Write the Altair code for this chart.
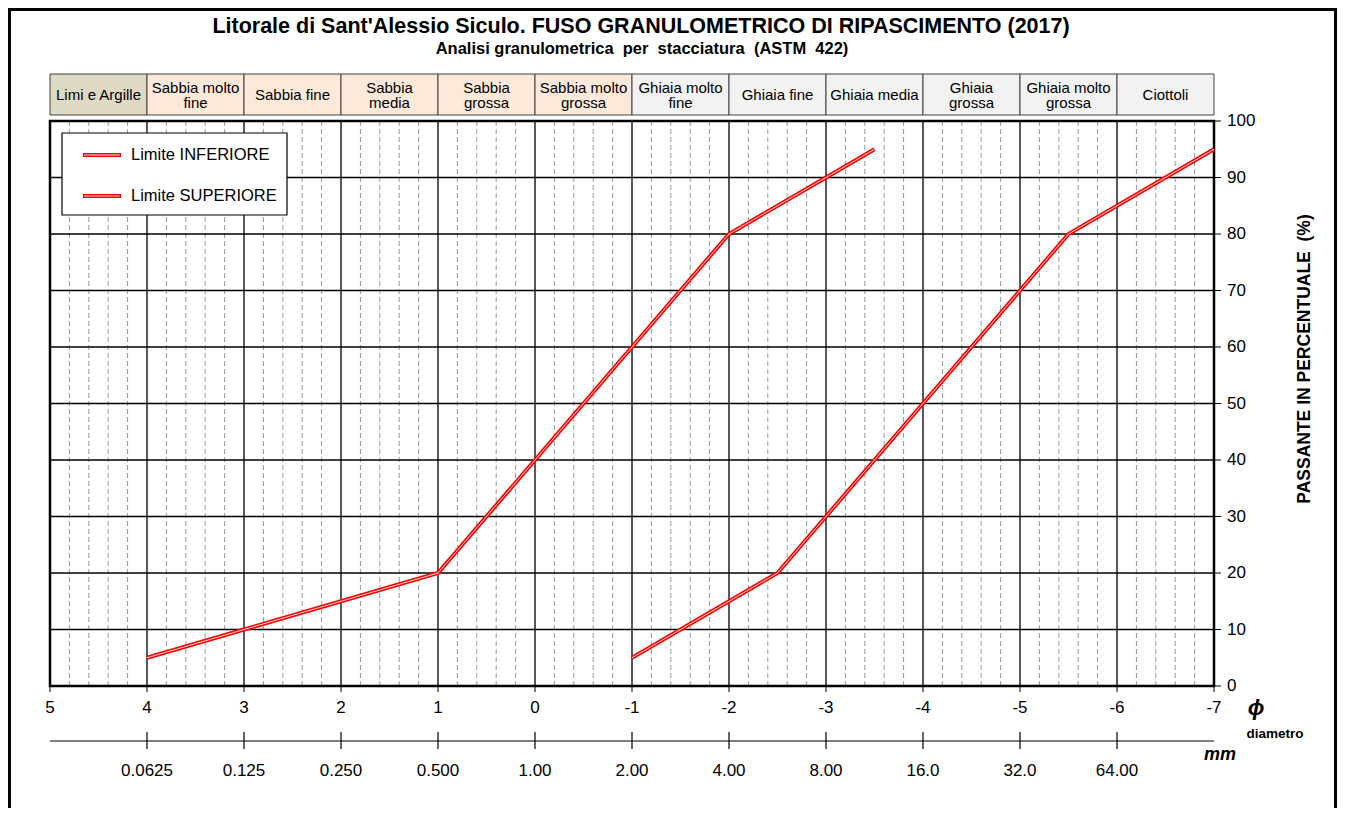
import altair as alt
import pandas as pd
import numpy as np

FONT = "Liberation Sans"
NB = "\u00a0"

# ---- data ----
phi_inf = [4, 3, 2, 1, 0, -1, -2, -3, -3.5]
pct_inf = [5, 10, 15, 20, 40, 60, 80, 90, 95]
phi_sup = [-1, -2, -2.5, -3, -4, -5, -5.5, -6, -7]
pct_sup = [5, 15, 20, 30, 50, 70, 80, 85, 95]

class_names = ["Limi e Argille", "Sabbia molto\nfine", "Sabbia fine", "Sabbia\nmedia", "Sabbia\ngrossa",
               "Sabbia molto\ngrossa", "Ghiaia molto\nfine", "Ghiaia fine", "Ghiaia media", "Ghiaia\ngrossa",
               "Ghiaia molto\ngrossa", "Ciottoli"]
class_from = [5, 4, 3, 2, 1, 0, -1, -2, -3, -4, -5, -6]
class_to = [4, 3, 2, 1, 0, -1, -2, -3, -4, -5, -6, -7]
class_colors = ["#ddd9c3"] + ["#fde9d9"] * 5 + ["#f2f2f2"] * 6

phi_ticks = [5, 4, 3, 2, 1, 0, -1, -2, -3, -4, -5, -6, -7]
mm_phi = [4, 3, 2, 1, 0, -1, -2, -3, -4, -5, -6]
mm_labels = ["0.0625", "0.125", "0.250", "0.500", "1.00", "2.00", "4.00", "8.00", "16.0", "32.0", "64.00"]
pct_ticks = [0, 10, 20, 30, 40, 50, 60, 70, 80, 90, 100]

W, H = 1164, 565

xs = alt.Scale(domain=[-7, 5], reverse=True, nice=False, zero=False)
ys = alt.Scale(domain=[0, 100], nice=False, zero=False)

minor = [round(v, 1) for v in np.arange(-7, 5.01, 0.2) if abs(v - round(v)) > 1e-6]
df_minor = pd.DataFrame({"phi": minor})
df_major = pd.DataFrame({"phi": phi_ticks[1:-1]})
df_hgrid = pd.DataFrame({"pct": pct_ticks[1:-1]})

df_lines = pd.concat([
    pd.DataFrame({"phi": phi_inf, "pct": pct_inf, "serie": "Limite INFERIORE"}),
    pd.DataFrame({"phi": phi_sup, "pct": pct_sup, "serie": "Limite SUPERIORE"}),
])

line_red = alt.Chart(df_lines).mark_line(color="#ff0000", strokeWidth=4, strokeJoin="miter").encode(
    x=alt.X("phi:Q", scale=xs, axis=None),
    y=alt.Y("pct:Q", scale=ys, axis=None),
    detail="serie:N")
line_white = alt.Chart(df_lines).mark_line(color="#ffffff", strokeWidth=1, opacity=0.85).encode(
    x=alt.X("phi:Q", scale=xs, axis=None), y=alt.Y("pct:Q", scale=ys, axis=None), detail="serie:N")

minor_rules = alt.Chart(df_minor).mark_rule(color="#9a9a9a", strokeDash=[5, 3], strokeWidth=1).encode(
    x=alt.X("phi:Q", scale=xs, axis=None), y=alt.value(0), y2=alt.value(H))
major_rules = alt.Chart(df_major).mark_rule(color="#000000", strokeWidth=1.3).encode(
    x=alt.X("phi:Q", scale=xs, axis=None), y=alt.value(0), y2=alt.value(H))
h_rules = alt.Chart(df_hgrid).mark_rule(color="#000000", strokeWidth=1.3).encode(
    y=alt.Y("pct:Q", scale=ys, axis=None), x=alt.value(0), x2=alt.value(W))

# ---- phi axis (bottom) ----
df_phi = pd.DataFrame({"phi": phi_ticks, "lab": [str(v) for v in phi_ticks]})
phi_tk = alt.Chart(df_phi).mark_rule(color="#000", strokeWidth=1).encode(
    x=alt.X("phi:Q", scale=xs, axis=None), y=alt.value(H), y2=alt.value(H + 6))
phi_lab = alt.Chart(df_phi).mark_text(font=FONT, fontSize=17, color="#000", baseline="middle").encode(
    x=alt.X("phi:Q", scale=xs, axis=None), y=alt.value(H + 22), text="lab:N")

# ---- percent axis (right) ----
df_pct = pd.DataFrame({"pct": pct_ticks, "lab": [str(v) for v in pct_ticks]})
pct_tk = alt.Chart(df_pct).mark_rule(color="#000", strokeWidth=1).encode(
    y=alt.Y("pct:Q", scale=ys, axis=None), x=alt.value(W), x2=alt.value(W + 7))
pct_lab = alt.Chart(df_pct).mark_text(font=FONT, fontSize=17, color="#000", baseline="middle", align="left").encode(
    y=alt.Y("pct:Q", scale=ys, axis=None), x=alt.value(W + 13), text="lab:N")

# ---- header class band ----
df_cls = pd.DataFrame({"name": class_names, "a": class_from, "b": class_to, "col": class_colors,
                       "mid": [(a + b) / 2 for a, b in zip(class_from, class_to)]})
df_cls["two"] = df_cls["name"].str.contains("\n")
cls_rect = alt.Chart(df_cls).mark_rect(stroke="#404040", strokeWidth=1).encode(
    x=alt.X("a:Q", scale=xs, axis=None), x2="b:Q", y=alt.value(-47), y2=alt.value(-6),
    fill=alt.Fill("col:N", scale=None))
cls_text1 = alt.Chart(df_cls[~df_cls["two"]]).mark_text(
    font=FONT, fontSize=15, color="#000", baseline="middle", align="center").encode(
    x=alt.X("mid:Q", scale=xs, axis=None), y=alt.value(-26), text="name:N")
cls_text2 = alt.Chart(df_cls[df_cls["two"]]).mark_text(
    font=FONT, fontSize=15, color="#000", lineBreak="\n", baseline="middle", align="center",
    lineHeight=15.5).encode(
    x=alt.X("mid:Q", scale=xs, axis=None), y=alt.value(-33.5), text="name:N")

# ---- mm axis ----
df_mm = pd.DataFrame({"phi": mm_phi, "lab": mm_labels})
mm_line = alt.Chart(pd.DataFrame({"a": [5], "b": [-7]})).mark_rule(color="#000", strokeWidth=1.2).encode(
    x=alt.X("a:Q", scale=xs, axis=None), x2="b:Q", y=alt.value(620))
mm_ticks = alt.Chart(df_mm).mark_rule(color="#000", strokeWidth=1.2).encode(
    x=alt.X("phi:Q", scale=xs, axis=None), y=alt.value(611), y2=alt.value(628))
mm_text = alt.Chart(df_mm).mark_text(font=FONT, fontSize=17, color="#000", baseline="middle").encode(
    x=alt.X("phi:Q", scale=xs, axis=None), y=alt.value(650), text="lab:N")

# ---- free texts ----
def txt(s, x, y, size, weight="normal", style="normal", align="center", angle=0):
    return alt.Chart(pd.DataFrame({"t": [s]})).mark_text(
        font=FONT, fontSize=size, fontWeight=weight, fontStyle=style, align=align, baseline="middle",
        color="#000", angle=angle).encode(x=alt.value(x), y=alt.value(y), text="t:N")

title = txt("Litorale di Sant'Alessio Siculo. FUSO GRANULOMETRICO DI RIPASCIMENTO (2017)", 591, -94, 21.5, "bold")
subtitle = txt(f"Analisi granulometrica {NB}per {NB}stacciatura {NB}(ASTM {NB}422)", 592, -72, 16.5, "bold")
phi_sym = txt("\u03d5", 1206, 587, 22, "bold", "italic")
diam = txt("diametro", 1225, 613, 13.5, "bold")
mm_sym = txt("mm", 1170, 634, 18, "bold", "italic")
ytitle = txt(f"PASSANTE IN PERCENTUALE {NB}(%)", 1255, 238, 17.5, "bold", angle=270)

# ---- legend ----
leg_box = alt.Chart(pd.DataFrame({"t": [0]})).mark_rect(fill="#ffffff", stroke="#000", strokeWidth=1.2).encode(
    x=alt.value(12), x2=alt.value(237), y=alt.value(12), y2=alt.value(94))
df_leg = pd.DataFrame({"serie": ["Limite INFERIORE", "Limite SUPERIORE"], "yy": [34, 75]})
leg_red = alt.Chart(df_leg).mark_rule(color="#ff0000", strokeWidth=4).encode(
    x=alt.value(33), x2=alt.value(71), y=alt.Y("yy:Q", scale=None, axis=None))
leg_white = alt.Chart(df_leg).mark_rule(color="#ffffff", strokeWidth=1, opacity=0.85).encode(
    x=alt.value(34), x2=alt.value(70), y=alt.Y("yy:Q", scale=None, axis=None))
leg_text = alt.Chart(df_leg).mark_text(font=FONT, fontSize=16.5, align="left", baseline="middle", color="#000").encode(
    x=alt.value(81), y=alt.Y("yy:Q", scale=None, axis=None), text="serie:N")

# ---- outer frame (open at bottom, like the reference) ----
fr_top = alt.Chart(pd.DataFrame({"t": [0]})).mark_rule(color="#000", strokeWidth=3).encode(
    x=alt.value(-42), x2=alt.value(1287), y=alt.value(-111.5))
fr_left = alt.Chart(pd.DataFrame({"t": [0]})).mark_rule(color="#000", strokeWidth=3).encode(
    x=alt.value(-40.5), y=alt.value(-113), y2=alt.value(700))
fr_right = alt.Chart(pd.DataFrame({"t": [0]})).mark_rule(color="#000", strokeWidth=3).encode(
    x=alt.value(1285.5), y=alt.value(-113), y2=alt.value(700))
# ---- plot border ----
border = alt.Chart(pd.DataFrame({"t": [0]})).mark_rect(fillOpacity=0, stroke="#000", strokeWidth=2.5).encode(
    x=alt.value(0), x2=alt.value(W), y=alt.value(0), y2=alt.value(H))

chart = alt.layer(
    minor_rules, major_rules, h_rules, border, cls_rect, cls_text1, cls_text2,
    line_red, line_white, phi_tk, phi_lab, pct_tk, pct_lab, mm_line, mm_ticks, mm_text,
    title, subtitle, phi_sym, diam, mm_sym, ytitle,
    leg_box, leg_red, leg_white, leg_text, fr_top, fr_left, fr_right,
).properties(
    width=W, height=H,
    padding={"left": 42, "top": 113, "right": 124, "bottom": 122},
    autosize=alt.AutoSizeParams(type="none"),
    background="#ffffff",
).configure_view(stroke=None)

chart.save("out.html", embed_options={"renderer": "svg", "actions": False})
